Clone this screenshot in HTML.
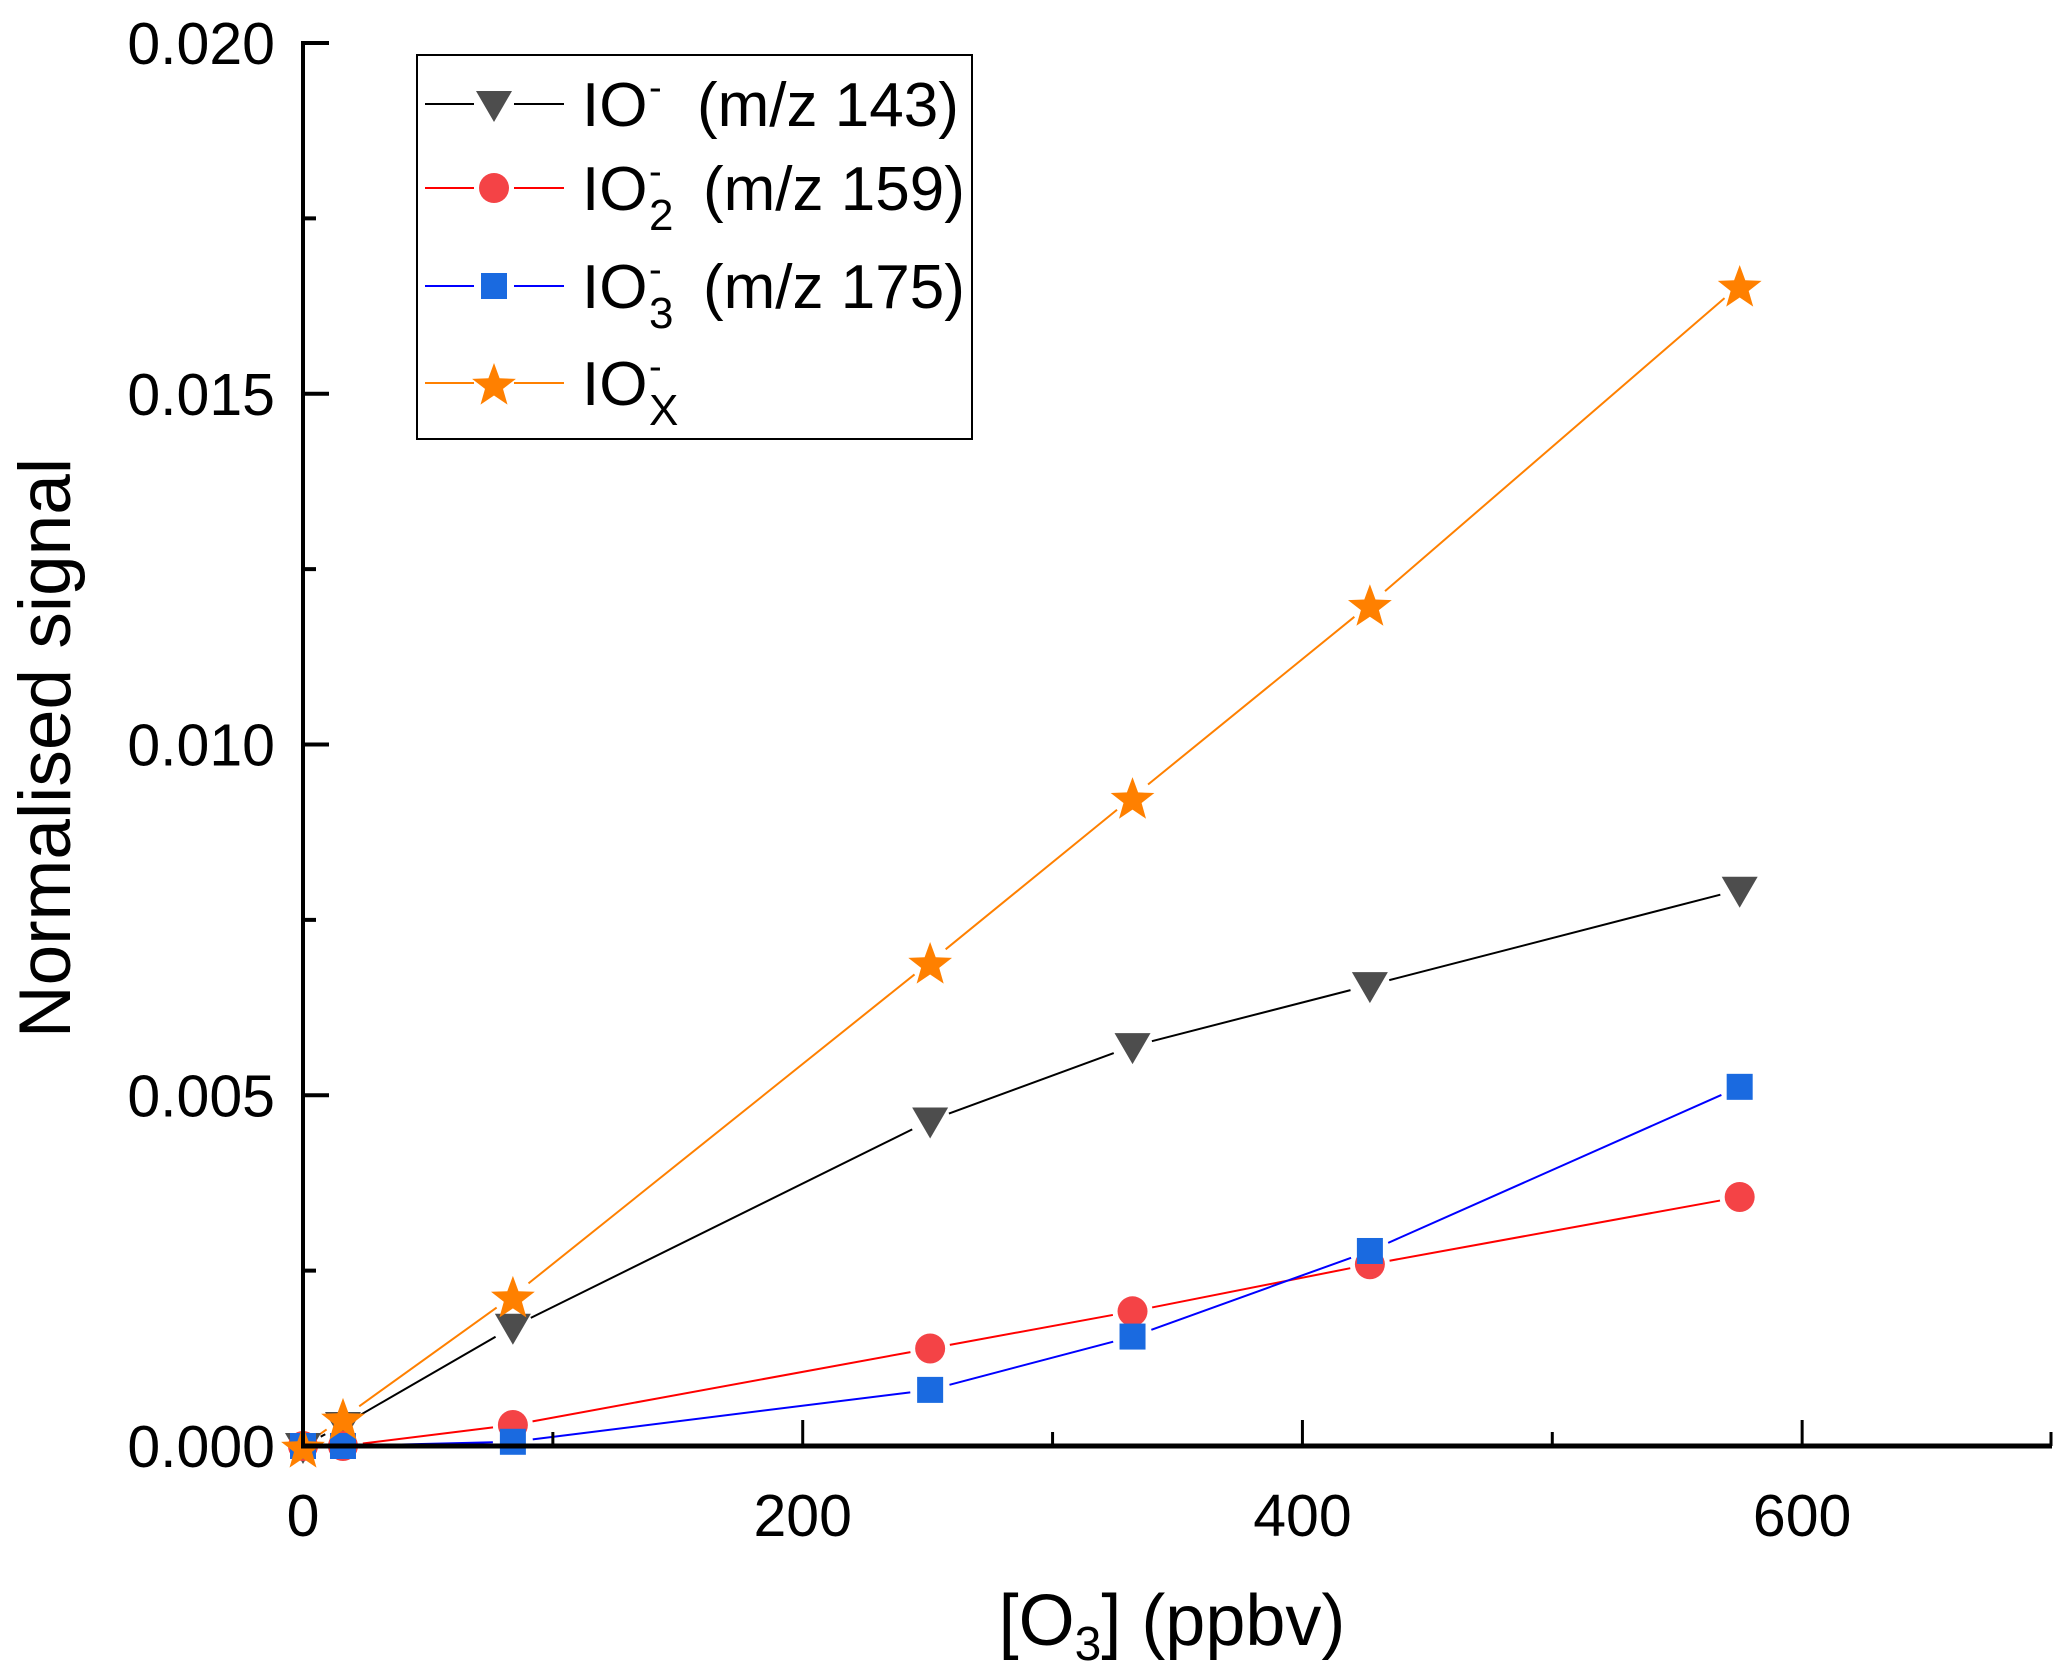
<!DOCTYPE html>
<html><head><meta charset="utf-8">
<style>
html,body{margin:0;padding:0;background:#fff;}
svg{display:block;font-family:"Liberation Sans",Arial,sans-serif;}
</style></head>
<body>
<svg id="chart" width="2067" height="1673" viewBox="0 0 2067 1673" xmlns="http://www.w3.org/2000/svg">
<g id="plot"></g>
<g id="axes"></g>
<text transform="translate(70,748) rotate(-90)" text-anchor="middle" font-size="73">Normalised signal</text>
<text x="1172" y="1645" text-anchor="middle" font-size="72">[O<tspan font-size="48" dy="15">3</tspan><tspan dy="-15">] (ppbv)</tspan></text>
<g>
<rect x="417" y="55" width="555" height="384" fill="#fff" stroke="#000" stroke-width="2"/>
<g id="legendItems"></g>
</g>
</svg>
<script>
const xValues=[0,16,84,251,332,427,575];
const seriesIO=[0,0.0003,0.0017,0.00464,0.0057,0.00657,0.00793];
const seriesIO2=[0,0,0.0003,0.00139,0.00192,0.00259,0.00355];
const seriesIO3=[0,0,0.00006,0.0008,0.00156,0.00278,0.00512];
const seriesIOx=[0,0.0004,0.00214,0.0069,0.00925,0.0120,0.01655];
const xTicks=[0,200,400,600];
const xMinor=[100,300,500];
const yTicks=[0,0.005,0.010,0.015,0.020];
const yTickLabels=["0.000","0.005","0.010","0.015","0.020"];
const yMinor=[0.0025,0.0075,0.0125,0.0175];

const X0=303,X1=2052,XMAX=700,Y0=1446,Y1=43,YMAX=0.02;
function sx(v){return X0+(X1-X0)*v/XMAX;}
function sy(v){return Y0-(Y0-Y1)*v/YMAX;}
const NS="http://www.w3.org/2000/svg";
function mk(tag,attrs,parent){const e=document.createElementNS(NS,tag);for(const k in attrs)e.setAttribute(k,attrs[k]);parent.appendChild(e);return e;}

const axes=document.getElementById('axes');
const plot=document.getElementById('plot');

function marker(type,cx,cy,parent,fill){
  let e;
  if(type==='tri'){const r=18;e=mk('polygon',{points:`${cx-r},${cy-13} ${cx+r},${cy-13} ${cx},${cy+18}`,fill:fill},parent);}
  else if(type==='circ'){e=mk('circle',{cx:cx,cy:cy,r:15,fill:fill},parent);}
  else if(type==='sq'){e=mk('rect',{x:cx-13,y:cy-13,width:26,height:26,fill:fill},parent);}
  else {const pts=[];for(let i=0;i<10;i++){const a=-Math.PI/2+i*Math.PI/5;const r=i%2?9.5:23;pts.push((cx+r*Math.cos(a)).toFixed(1)+','+(cy+3+r*Math.sin(a)).toFixed(1));}e=mk('polygon',{points:pts.join(' '),fill:fill},parent);}
  return e;
}

const series=[
 {name:'io',vals:seriesIO,line:'#000',fill:'#4d4d4d',m:'tri'},
 {name:'io2',vals:seriesIO2,line:'#ff0000',fill:'#f44346',m:'circ'},
 {name:'io3',vals:seriesIO3,line:'#0000ff',fill:'#1a6ae0',m:'sq'},
 {name:'iox',vals:seriesIOx,line:'#ff8000',fill:'#ff8000',m:'star'}
];
const gap=20;
series.forEach(s=>{
  const g=mk('g',{},plot);
  
  
  for(let i=0;i<xValues.length-1;i++){
    const ax=sx(xValues[i]),ay=sy(s.vals[i]),bx=sx(xValues[i+1]),by=sy(s.vals[i+1]);
    const d=Math.hypot(bx-ax,by-ay);if(d<2*gap+2)continue;
    const ux=(bx-ax)/d,uy=(by-ay)/d;
    const l=mk('line',{x1:ax+ux*gap,y1:ay+uy*gap,x2:bx-ux*gap,y2:by-uy*gap,stroke:s.line,'stroke-width':2},g);
    
    
  }
});
series.forEach(s=>{
  const g=mk('g',{},plot);
  xValues.forEach((x,i)=>{
    const m=marker(s.m,sx(x),sy(s.vals[i]),g,s.fill);
    
    
  });
});

// axes
const ya=mk('line',{x1:X0,y1:Y1-2,x2:X0,y2:Y0+2,stroke:'#000','stroke-width':4},axes);


const xa=mk('line',{x1:X0-2,y1:Y0,x2:X1,y2:Y0,stroke:'#000','stroke-width':5},axes);


xTicks.forEach(t=>{
  const l=mk('line',{x1:sx(t),y1:Y0,x2:sx(t),y2:Y0-26,stroke:'#000','stroke-width':3},axes);
  
  
  const tx=mk('text',{x:sx(t),y:1536,'text-anchor':'middle','font-size':59},axes);
  tx.textContent=t;
  
  
});
xMinor.forEach(t=>{
  const l=mk('line',{x1:sx(t),y1:Y0,x2:sx(t),y2:Y0-14,stroke:'#000','stroke-width':3},axes);
  
  
});
mk('line',{x1:X1-1,y1:Y0,x2:X1-1,y2:Y0-14,stroke:'#000','stroke-width':3},axes);
yTicks.forEach((t,i)=>{
  const l=mk('line',{x1:X0,y1:sy(t),x2:X0+26,y2:sy(t),stroke:'#000','stroke-width':4},axes);
  
  
  const tx=mk('text',{x:275,y:sy(t)+21,'text-anchor':'end','font-size':59},axes);
  tx.textContent=yTickLabels[i];
  
  
});
yMinor.forEach(t=>{
  const l=mk('line',{x1:X0,y1:sy(t),x2:X0+13,y2:sy(t),stroke:'#000','stroke-width':4},axes);
  
  
});

// legend
const legendLabels=[['IO','-','','(m/z 143)'],['IO','-','2','(m/z 159)'],['IO','-','3','(m/z 175)'],['IO','-','X','']];
const legendY=[104,188,286,383];
const legendTextX=[697,703,703,703];
const lg=document.getElementById('legendItems');
series.forEach((s,i)=>{
  const g=mk('g',{},lg);
  
  
  const y=legendY[i];
  mk('line',{x1:425,y1:y,x2:474,y2:y,stroke:s.line,'stroke-width':2},g);
  mk('line',{x1:514,y1:y,x2:564,y2:y,stroke:s.line,'stroke-width':2},g);
  marker(s.m,494,y,g,s.fill);
  const a=mk('text',{x:582,y:y+22,'font-size':62},g);a.textContent=legendLabels[i][0];
  const b=mk('text',{x:649,y:y-4,'font-size':38},g);b.textContent=legendLabels[i][1];
  if(legendLabels[i][2]){const c=mk('text',{x:649,y:y+42,'font-size':44},g);c.textContent=legendLabels[i][2];}
  if(legendLabels[i][3]){const d=mk('text',{x:legendTextX[i],y:y+22,'font-size':62},g);d.textContent=legendLabels[i][3];}
});
</script>
</body></html>
